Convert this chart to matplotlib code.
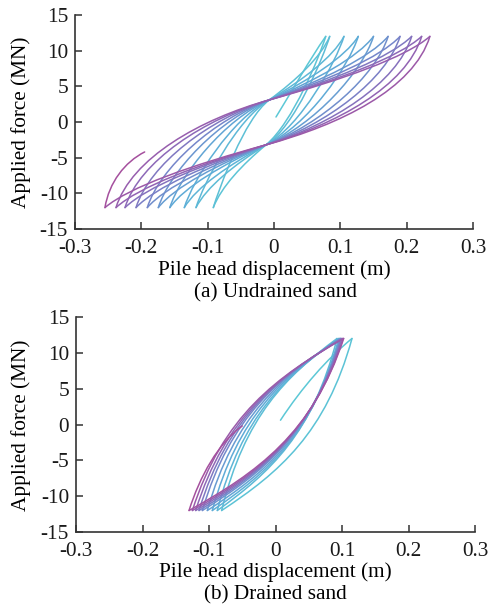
import numpy as np
import matplotlib
matplotlib.use('Agg')
import matplotlib.pyplot as plt
from matplotlib.path import Path
from matplotlib.patches import PathPatch
from matplotlib.colors import LinearSegmentedColormap

# (a) undrained sand: peak displacements (m) read at +/-12 MN
und_start = (0.003, 0.7)
und_pos_peaks = [0.078, 0.084, 0.1055, 0.127, 0.150, 0.172, 0.190, 0.2075, 0.2226, 0.235]
und_neg_peaks = [-0.0915, -0.1176, -0.1352, -0.157, -0.1744, -0.191, -0.208, -0.2246, -0.2382, -0.2548]
und_end = (-0.195, -4.2)
und_pinch_up = (-0.007, 3.1)
und_pinch_low = (-0.012, -3.2)

# (b) drained sand
dr_start = (0.0075, 0.6)
dr_pos_peaks = [0.115, 0.0925, 0.095, 0.0965, 0.0975, 0.0985, 0.100, 0.1015, 0.1025]
dr_neg_peaks = [-0.081, -0.0875, -0.095, -0.1025, -0.110, -0.115, -0.120, -0.125, -0.130]
dr_end = (-0.05, -0.2)

peak_force = 12.0

x_ticks = [-0.3, -0.2, -0.1, 0, 0.1, 0.2, 0.3]
x_tick_labels = ['-0.3', '-0.2', '-0.1', '0', '0.1', '0.2', '0.3']
y_ticks = [-15, -10, -5, 0, 5, 10, 15]
y_tick_labels = ['-15', '-10', '-5', '0', '5', '10', '15']

plt.rcParams['font.family'] = ['Liberation Serif', 'DejaVu Serif']
plt.rcParams['font.size'] = 15.3
plt.rcParams['axes.unicode_minus'] = False

cmap = LinearSegmentedColormap.from_list(
    'cyc', [(0.0, '#5cc8d6'), (0.35, '#5faad7'), (0.6, '#7882c8'),
            (0.8, '#9164b4'), (1.0, '#a5509e')])
LW = 1.1


def draw_path(ax, verts, color):
    codes = [Path.MOVETO] + [Path.CURVE4] * (len(verts) - 1)
    ax.add_patch(PathPatch(Path(verts, codes), fill=False, edgecolor=color,
                           lw=LW, capstyle='round', joinstyle='round'))


def pinched_branch(ax, a, q, b, color):
    # peak a -> pinch q -> peak b (steep start, flat through pinch, stiffening to b)
    dx1 = q[0] - a[0]
    dx2 = b[0] - q[0]
    chord = (b[1] - q[1]) / dx2
    s_q = 0.7 * chord
    s_b = 2.2 * chord
    c1 = (a[0] + 0.1 * dx1, a[1] + 0.1 * dx1 * 300)
    c2 = (q[0] - 0.45 * dx1, q[1] - 0.45 * dx1 * s_q)
    c3 = (q[0] + 0.45 * dx2, q[1] + 0.45 * dx2 * s_q)
    c4 = (b[0] - 0.15 * dx2, b[1] - 0.15 * dx2 * s_b)
    draw_path(ax, [a, c1, c2, q, c3, c4, b], color)


def masing_branch(ax, a, b, color):
    dx = b[0] - a[0]
    dy = b[1] - a[1]
    c1 = (a[0] + 0.2 * dx, a[1] + 0.55 * dy)
    c2 = (a[0] + 0.56 * dx, a[1] + 0.78 * dy)
    draw_path(ax, [a, c1, c2, b], color)


def simple_branch(ax, a, b, color, f1, f2):
    dx = b[0] - a[0]
    dy = b[1] - a[1]
    c1 = (a[0] + f1[0] * dx, a[1] + f1[1] * dy)
    c2 = (a[0] + f2[0] * dx, a[1] + f2[1] * dy)
    draw_path(ax, [a, c1, c2, b], color)


def style_axes(ax):
    ax.set_xlim(-0.3, 0.3)
    ax.set_ylim(-15, 15)
    ax.set_xticks(x_ticks)
    ax.set_xticklabels(x_tick_labels)
    ax.set_yticks(y_ticks)
    ax.set_yticklabels(y_tick_labels)
    for s in ['top', 'right']:
        ax.spines[s].set_visible(False)
    for s in ['left', 'bottom']:
        ax.spines[s].set_color('#333333')
        ax.spines[s].set_linewidth(1.2)
    ax.tick_params(direction='in', length=5, width=1.1, colors='#333333',
                   labelcolor='#1a1a1a')
    ax.tick_params(axis='x', pad=7)
    ax.tick_params(axis='y', pad=5)


fig = plt.figure(figsize=(4.89, 6.10), dpi=100)
W, H = 489, 610
ax1 = fig.add_axes([75 / W, 1 - 229 / H, 398 / W, 214 / H])
ax2 = fig.add_axes([76 / W, 1 - 532 / H, 399 / W, 215 / H])

# ---- undrained loops
n_br = 2 * len(und_pos_peaks) + 1
k = 0
p1 = (und_pos_peaks[0], peak_force)
simple_branch(ax1, und_start, p1, cmap(0), (0.33, 0.33), (0.66, 0.7))
k += 1
for i in range(len(und_pos_peaks)):
    p = (und_pos_peaks[i], peak_force)
    n = (und_neg_peaks[i], -peak_force)
    pinched_branch(ax1, p, und_pinch_low, n, cmap(k / n_br))
    k += 1
    if i + 1 < len(und_pos_peaks):
        pn = (und_pos_peaks[i + 1], peak_force)
        pinched_branch(ax1, n, und_pinch_up, pn, cmap(k / n_br))
        k += 1
n_last = (und_neg_peaks[-1], -peak_force)
simple_branch(ax1, n_last, und_end, cmap(1.0), (0.1, 0.45), (0.5, 0.82))

# ---- drained loops
n_br = 2 * len(dr_pos_peaks)
k = 0
simple_branch(ax2, dr_start, (dr_pos_peaks[0], peak_force), cmap(0), (0.3, 0.4), (0.65, 0.75))
k += 1
for i in range(len(dr_pos_peaks)):
    p = (dr_pos_peaks[i], peak_force)
    n = (dr_neg_peaks[i], -peak_force)
    masing_branch(ax2, p, n, cmap(k / n_br))
    k += 1
    if i + 1 < len(dr_pos_peaks):
        pn = (dr_pos_peaks[i + 1], peak_force)
        masing_branch(ax2, n, pn, cmap(k / n_br))
        k += 1
simple_branch(ax2, (dr_neg_peaks[-1], -peak_force), dr_end, cmap(1.0), (0.2, 0.4), (0.55, 0.8))

for ax in (ax1, ax2):
    style_axes(ax)

fig.text(21 / W, 1 - 122 / H, 'Applied force (MN)', rotation=90, ha='center', va='center')
fig.text(21 / W, 1 - 425 / H, 'Applied force (MN)', rotation=90, ha='center', va='center')
fig.text(274 / W, 1 - 270 / H, 'Pile head displacement (m)', ha='center', va='center')
fig.text(275 / W, 1 - 293 / H, '(a) Undrained sand', ha='center', va='center')
fig.text(275 / W, 1 - 572 / H, 'Pile head displacement (m)', ha='center', va='center')
fig.text(275 / W, 1 - 595 / H, '(b) Drained sand', ha='center', va='center')

fig.savefig('out.png', dpi=100)
